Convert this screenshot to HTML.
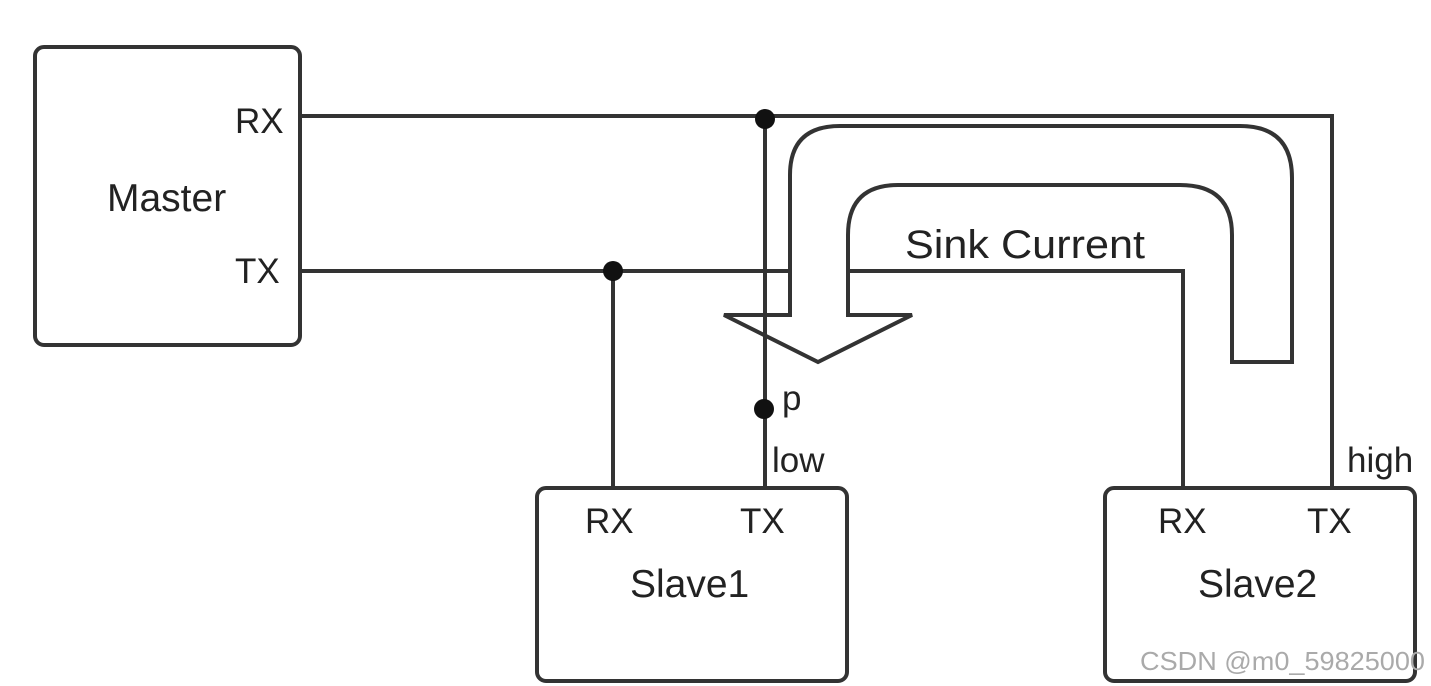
<!DOCTYPE html>
<html><head><meta charset="utf-8"><style>
html,body{margin:0;padding:0;background:#fff;}
svg{display:block;}
text{font-family:"Liberation Sans",sans-serif;fill:#222;}
</style></head><body>
<svg width="1431" height="686" viewBox="0 0 1431 686" xmlns="http://www.w3.org/2000/svg">
<g stroke="#333" stroke-width="4" fill="none">
<rect x="35" y="47" width="265" height="298" rx="9"/>
<rect x="537" y="488" width="310" height="193" rx="9"/>
<rect x="1105" y="488" width="310" height="193" rx="9"/>
<polyline points="300,116 1332,116 1332,486"/>
<polyline points="300,271 1183,271 1183,486"/>
<line x1="613" y1="271" x2="613" y2="486"/>
</g>
<path d="M790,315 L790,175 Q790,126 840,126 L1240,126 Q1292,126 1292,178 L1292,362 L1232,362 L1232,235 Q1232,185 1180,185 L898,185 Q848,185 848,235 L848,315 L912,315 L818,362 L724,315 Z" fill="#fff" stroke="#333" stroke-width="4" stroke-linejoin="miter"/>
<line x1="765" y1="116" x2="765" y2="486" stroke="#333" stroke-width="4"/>
<g fill="#111">
<circle cx="765" cy="119" r="10"/>
<circle cx="613" cy="271" r="10"/>
<circle cx="764" cy="409" r="10"/>
</g>
<g font-size="35">
<text x="235" y="133">RX</text>
<text x="235" y="283">TX</text>
<text x="107" y="211" font-size="39">Master</text>
<text x="585" y="533">RX</text>
<text x="740" y="533">TX</text>
<text x="630" y="597" font-size="39">Slave1</text>
<text x="1158" y="533">RX</text>
<text x="1307" y="533">TX</text>
<text x="1198" y="597" font-size="39">Slave2</text>
<text x="905" y="258" fill="#444" font-size="40" textLength="240" lengthAdjust="spacingAndGlyphs">Sink Current</text>
<text x="782" y="410">p</text>
<text x="772" y="472" fill="#444">low</text>
<text x="1347" y="472" fill="#444">high</text>
</g>
<text x="1140" y="670" font-size="26" style="fill:#aaa" textLength="285" lengthAdjust="spacingAndGlyphs">CSDN @m0_59825000</text>
</svg>
</body></html>
